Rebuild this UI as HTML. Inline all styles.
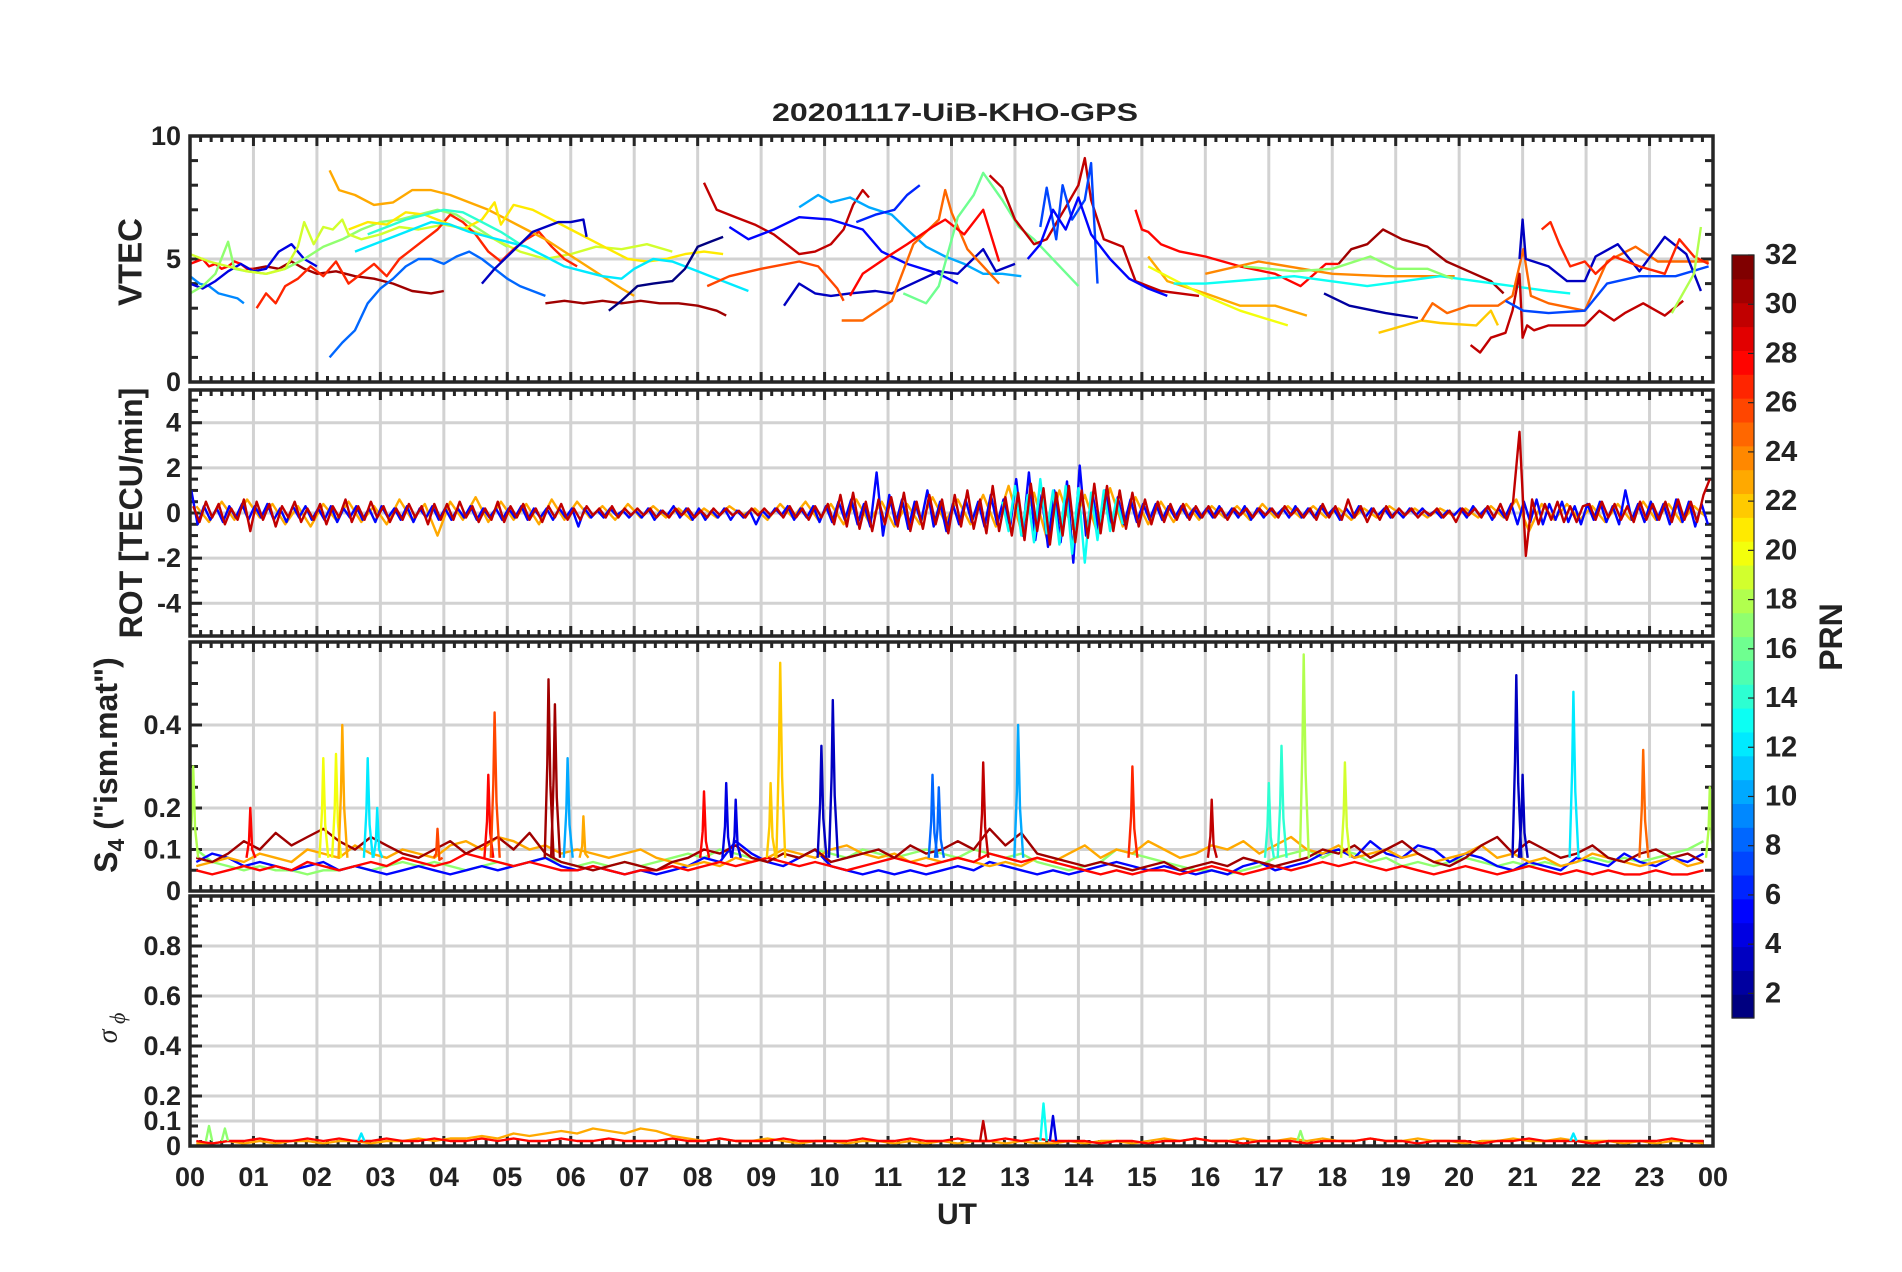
<!DOCTYPE html>
<html><head><meta charset="utf-8">
<style>
html,body{margin:0;padding:0;background:#fff;}
svg{display:block;font-family:"Liberation Sans",Arial,sans-serif;}
</style></head>
<body>
<svg id="fig" width="1902" height="1272" viewBox="0 0 1902 1272" xmlns="http://www.w3.org/2000/svg">
<rect x="0" y="0" width="1902" height="1272" fill="#fff"/>
<text x="955" y="121" text-anchor="middle" font-size="25" font-weight="bold" fill="#222" textLength="366" lengthAdjust="spacingAndGlyphs">20201117-UiB-KHO-GPS</text>
<text x="957" y="1224" text-anchor="middle" font-size="30" font-weight="bold" fill="#222">UT</text>
<text transform="translate(130,262) rotate(-90)" text-anchor="middle" dominant-baseline="central" font-size="33" font-weight="bold" fill="#222">VTEC</text>
<text transform="translate(131,513) rotate(-90)" text-anchor="middle" dominant-baseline="central" font-size="32" font-weight="bold" fill="#222">ROT [TECU/min]</text>
<text transform="translate(106,765) rotate(-90)" text-anchor="middle" dominant-baseline="central" font-size="32" font-weight="bold" fill="#222">S<tspan font-size="23" dy="10">4</tspan><tspan dy="-10"> ("ism.mat")</tspan></text>
<text transform="translate(108,1028) rotate(-90)" text-anchor="middle" dominant-baseline="central" font-size="28" font-style="italic" font-family="Liberation Serif, serif" fill="#222">σ<tspan font-size="22" dy="9"> ϕ</tspan></text>
<text transform="translate(1831,637) rotate(-90)" text-anchor="middle" dominant-baseline="central" font-size="32" font-weight="bold" fill="#222">PRN</text>
</svg>
<script>
// ---------------- DATA ----------------
const hourTicks=["00","01","02","03","04","05","06","07","08","09","10","11","12","13","14","15","16","17","18","19","20","21","22","23","00"];
const vtecTickLabels=[0,5,10];
const rotTickLabels=[-4,-2,0,2,4];
const s4TickLabels=[0,0.1,0.2,0.4];
const sigTickLabels=[0,0.1,0.2,0.4,0.6,0.8];
const cbarTickLabels=[2,4,6,8,10,12,14,16,18,20,22,24,26,28,30,32];

const vtecPrn=[9,28,31,4,17,19,27,23,21,8,12,14,3,31,1,30,10,5,3,6,26,25,28,16,30,7,5,28,31,23,20,24,13,2,22,25,30,3,27,7,18,17];
const vtecTracks=[
[0,4.3,0.15,4.0,0.3,3.9,0.45,3.6,0.6,3.5,0.75,3.4,0.85,3.2],
[0,4.8,0.1,4.9,0.2,5.0,0.3,4.7,0.4,4.8,0.5,4.6,0.6,4.7,0.7,4.9,0.8,4.8,0.9,4.6,1.0,4.6],
[1.0,4.6,1.2,4.7,1.4,4.6,1.6,4.9,1.8,4.6,2.0,4.4,2.3,4.5,2.6,4.3,2.9,4.2,3.2,4.0,3.5,3.7,3.8,3.6,4.0,3.7],
[0,4.0,0.2,3.8,0.4,4.1,0.6,4.5,0.8,4.8,1.0,4.5,1.2,4.6,1.4,5.3,1.6,5.6,1.8,5.0,2.0,4.7],
[0,3.6,0.2,3.9,0.4,4.4,0.6,5.7,0.7,4.6,0.9,4.5,1.2,4.4,1.5,4.6,1.8,5.0,2.1,5.5,2.4,5.8,2.7,6.2,3.0,6.5,3.3,6.6,3.6,6.8,3.9,7.0,4.2,6.8,4.5,6.3,4.8,5.8,5.0,5.5],
[0,5.2,0.3,4.9,0.6,4.7,0.9,4.5,1.2,4.4,1.5,4.6,1.7,5.5,1.8,6.5,1.95,5.6,2.1,6.3,2.25,6.2,2.4,6.6,2.5,6.0,2.7,5.8,3.0,6.0,3.3,6.3,3.6,6.2,4.0,6.4,4.4,6.2,4.8,5.8,5.2,5.3,5.6,5.0,6.0,5.2,6.4,5.5,6.8,5.4,7.2,5.6,7.6,5.3],
[1.05,3.0,1.2,3.6,1.35,3.2,1.5,3.9,1.7,4.2,1.9,4.7,2.1,4.3,2.3,4.9,2.5,4.0,2.7,4.4,2.9,4.8,3.1,4.3,3.3,5.0,3.5,5.4,3.7,5.8,3.9,6.2,4.1,6.8,4.3,6.5,4.5,6.0,4.7,5.3,4.9,4.9,5.1,5.4,5.3,5.8,5.5,6.1,5.7,5.5,5.9,5.0,6.1,4.7],
[2.2,8.6,2.35,7.8,2.6,7.6,2.9,7.2,3.2,7.3,3.5,7.8,3.8,7.8,4.1,7.6,4.4,7.3,4.7,7.0,5.0,6.6,5.3,6.2,5.6,5.8,5.9,5.3,6.2,4.8,6.5,4.3,6.8,3.8,7.0,3.5],
[2.5,6.2,2.8,6.5,3.1,6.4,3.4,6.9,3.7,6.8,4.0,6.5,4.3,6.2,4.6,6.6,4.8,7.3,4.9,6.4,5.1,7.2,5.4,7.0,5.7,6.6,6.0,6.2,6.3,5.8,6.6,5.4,6.9,5.0,7.2,4.9,7.5,5.0,7.8,5.2,8.1,5.3,8.4,5.2],
[2.2,1.0,2.4,1.6,2.6,2.1,2.8,3.2,3.0,3.8,3.2,4.2,3.4,4.7,3.6,5.0,3.8,5.0,4.0,4.8,4.2,5.1,4.4,5.3,4.6,5.0,4.8,4.6,5.0,4.2,5.2,3.9,5.4,3.7,5.6,3.5],
[2.6,5.3,2.9,5.6,3.2,5.9,3.5,6.2,3.8,6.5,4.1,6.4,4.4,6.1,4.7,5.9,5.0,5.7,5.3,5.5,5.6,5.1,5.9,4.7,6.2,4.5,6.5,4.3,6.8,4.2,7.0,4.6,7.3,5.0,7.6,4.9,7.9,4.6,8.2,4.3,8.5,4.0,8.8,3.7],
[2.8,6.0,3.1,6.3,3.4,6.6,3.7,6.8,4.0,7.0,4.3,6.9,4.6,6.5,4.9,6.1,5.2,5.6],
[4.6,4.0,4.8,4.6,5.0,5.1,5.2,5.6,5.4,6.1,5.6,6.3,5.8,6.5,6.0,6.5,6.2,6.6,6.25,5.9],
[5.6,3.2,5.9,3.3,6.2,3.2,6.5,3.3,6.8,3.2,7.1,3.3,7.4,3.2,7.7,3.2,8.0,3.1,8.3,2.9,8.45,2.7],
[6.6,2.9,6.8,3.3,7.05,3.9,7.3,4.0,7.6,4.1,7.8,4.6,8.0,5.5,8.2,5.7,8.4,5.9],
[8.1,8.1,8.3,7.0,8.6,6.7,8.9,6.4,9.2,6.0,9.4,5.6,9.6,5.2,9.85,5.3,10.1,5.6,10.3,6.2,10.45,7.2,10.6,7.8,10.7,7.5],
[9.6,7.1,9.9,7.6,10.1,7.3,10.4,7.5,10.7,7.1,11.06,6.8,11.3,6.2,11.6,5.5,11.9,5.1,12.2,4.8,12.5,4.4,12.8,4.4,13.1,4.3],
[8.5,6.3,8.8,5.8,9.2,6.2,9.6,6.7,10.1,6.6,10.6,6.2,10.9,5.3,11.3,4.8,11.8,4.4,12.1,4.0],
[9.36,3.1,9.6,4.0,9.85,3.6,10.1,3.5,10.4,3.6,10.8,3.7,11.06,3.6,11.3,3.9,11.8,4.5,12.1,4.4,12.5,5.4,12.7,4.5,13.0,4.8],
[10.5,6.5,10.8,6.8,11.1,7.0,11.3,7.6,11.5,8.0],
[8.15,3.9,8.5,4.3,9.0,4.6,9.6,4.9,9.9,4.7,10.2,3.8,10.3,3.3],
[10.27,2.5,10.6,2.5,11.06,3.3,11.4,5.6,11.8,6.6,11.9,7.8,12.0,6.9,12.25,5.4,12.75,4.0],
[10.4,3.5,10.6,4.4,11.0,5.1,11.3,5.6,11.7,6.3,11.9,6.6,12.2,6.0,12.5,7.0,12.75,4.9],
[11.24,3.6,11.6,3.2,11.8,3.9,12.1,6.7,12.35,7.6,12.5,8.5,12.8,7.4,13.06,6.3,13.3,5.8,14.0,3.9],
[12.6,8.4,12.8,7.9,13.0,6.6,13.3,5.6,13.5,5.8,13.8,7.1,14.0,8.0,14.1,9.1,14.2,7.4,14.4,5.8,14.7,5.5,14.9,4.1,15.1,3.9,15.3,3.7,15.6,3.6,15.9,3.5],
[13.4,6.3,13.5,7.9,13.65,5.8,13.75,8.0,13.9,6.6,14.1,7.4,14.2,8.9,14.3,4.0],
[13.2,5.0,13.4,5.6,13.6,7.0,13.8,6.2,14.0,7.5,14.2,6.0,14.5,5.0,14.8,4.2,15.1,3.8,15.4,3.5],
[14.9,7.0,15.0,6.2,15.1,6.1,15.3,5.6,15.6,5.3,16.0,5.1,16.55,4.7,17.1,4.4,17.5,3.9,17.9,4.8,18.1,4.8],
[18.1,4.8,18.3,5.4,18.55,5.6,18.8,6.2,19.1,5.8,19.5,5.5,19.8,4.9,20.15,4.5,20.5,4.1,20.7,3.6],
[15.1,5.1,15.4,4.1,16.0,3.6,16.55,3.1,17.1,3.1,17.6,2.7],
[15.1,4.7,16.0,3.5,16.55,2.9,17.3,2.3],
[16.0,4.4,16.84,4.9,18.0,4.4,18.84,4.3,19.93,4.3],
[15.5,4.0,16.0,4.0,17.4,4.3,18.55,3.9,19.7,4.3,20.55,4.0,21.4,3.7,21.75,3.6],
[17.87,3.6,18.27,3.1,18.84,2.8,19.35,2.6],
[18.73,2.0,19.41,2.5,19.7,2.4,20.27,2.3,20.5,2.9,20.61,2.3],
[19.41,2.5,19.58,3.2,19.81,2.8,20.15,3.1,20.61,3.1,20.84,3.5,21.01,5.4,21.13,3.5,21.41,3.2,21.98,2.9,22.33,4.9,22.78,5.5,23.13,4.9,23.93,4.9],
[20.18,1.5,20.33,1.2,20.5,1.8,20.73,2.0,20.84,2.9,20.95,4.4,21.0,1.8,21.07,2.3,21.18,2.1,21.41,2.3,21.98,2.3,22.21,2.9,22.44,2.5,22.61,2.8,22.9,3.2,23.24,2.7,23.53,3.3],
[20.95,5.0,21.0,6.6,21.05,5.0,21.41,4.7,21.7,4.1,21.98,4.1,22.15,5.1,22.5,5.6,22.84,4.5,23.24,5.9,23.58,5.2,23.81,3.7],
[21.3,6.2,21.44,6.5,21.58,5.6,21.75,4.7,21.98,4.9,22.15,4.4,22.44,5.1,22.84,4.7,23.24,4.4,23.47,5.8,23.7,5.1,23.93,4.8],
[20.73,3.3,21.01,2.9,21.41,2.8,21.98,2.9,22.33,4.0,22.84,4.3,23.41,4.3,23.93,4.7],
[23.35,2.8,23.7,4.4,23.81,6.3],
[16.6,4.7,17.4,4.5,18.0,4.6,18.6,5.1,19.0,4.6,19.5,4.6,19.9,4.2]
];

const rotRed=[0.3,-0.4,0.5,-0.2,0.4,-0.5,0.2,-0.3,0.6,-0.8,0.5,-0.3,0.4,-0.6,0.3,-0.2,0.5,-0.4,0.2,-0.3,0.4,-0.5,0.3,-0.2,0.6,-0.4,0.3,-0.3,0.5,-0.2,0.3,-0.4,0.2,-0.3,0.4,-0.2,0.3,-0.5,0.4,-0.3,0.4,-0.3,0.5,-0.2,0.3,-0.4,0.2,-0.3,0.5,-0.4,0.3,-0.2,0.4,-0.3,0.2,-0.4,0.3,-0.2,0.4,-0.3,0.2,-0.3,0.3,-0.1,0.2,-0.2,0.3,-0.2,0.2,-0.1,0.2,-0.1,0.2,-0.2,0.1,-0.2,0.2,-0.1,0.2,-0.2,0.1,-0.2,0.2,-0.1,0.2,-0.1,0.1,-0.2,0.2,-0.1,0.2,-0.1,0.2,-0.2,0.3,-0.2,0.2,-0.3,0.3,-0.2,0.4,-0.5,0.8,-0.6,0.9,-0.7,0.5,-0.8,0.6,-0.5,0.7,-0.6,0.9,-0.8,0.5,-0.7,0.8,-0.5,0.6,-0.9,0.8,-0.6,1.0,-0.7,0.6,-0.9,1.2,-0.8,0.7,-1.0,0.9,-1.2,1.3,-0.8,1.1,-1.4,0.9,-1.0,1.2,-1.3,1.0,-1.1,1.3,-0.9,1.2,-0.8,1.0,-0.7,0.9,-0.6,0.6,-0.5,0.5,-0.4,0.4,-0.3,0.4,-0.3,0.3,-0.2,0.3,-0.2,0.2,-0.3,0.2,-0.1,0.2,-0.2,0.2,-0.1,0.2,-0.2,0.3,-0.1,0.2,-0.2,0.2,-0.3,0.4,-0.2,0.3,-0.3,0.6,-0.2,0.3,-0.4,0.2,-0.3,0.3,-0.2,0.2,-0.1,0.2,-0.2,0.1,-0.1,0.2,-0.2,0.1,-0.4,0.2,-0.1,0.2,-0.2,0.3,-0.2,0.4,-0.3,0.5,3.6,-1.9,0.6,-0.5,0.4,-0.3,0.5,-0.4,0.3,-0.4,0.3,0.4,-0.3,0.5,-0.2,0.4,-0.3,0.3,-0.4,0.5,-0.3,0.4,-0.3,0.5,-0.4,0.6,-0.3,0.5,-0.4,0.8,1.5];
const rotBlue=[1.0,-0.5,0.3,-0.3,0.2,-0.4,0.3,-0.2,0.4,-0.3,0.3,-0.2,0.4,-0.3,0.2,-0.4,0.3,-0.2,0.3,-0.3,0.2,-0.3,0.3,-0.4,0.2,-0.2,0.3,-0.3,0.2,-0.4,0.3,-0.2,0.2,-0.3,0.3,-0.4,0.2,-0.2,0.3,-0.3,0.2,-0.3,0.2,-0.2,0.3,-0.3,0.2,-0.2,0.2,-0.3,0.2,-0.2,0.3,-0.3,0.2,-0.2,0.2,-0.3,0.2,-0.2,0.2,-0.6,0.2,-0.2,0.1,-0.2,0.2,-0.1,0.1,-0.2,0.1,-0.2,0.2,-0.3,0.1,-0.1,0.3,-0.2,0.2,-0.3,0.2,-0.3,0.1,-0.2,0.2,-0.3,0.1,-0.2,0.1,-0.5,0.1,-0.2,0.2,-0.1,0.3,-0.3,0.2,-0.2,0.3,-0.4,0.3,-0.4,0.5,-0.3,0.6,-0.5,0.4,-0.6,1.8,-1.0,0.8,-0.5,0.6,-0.7,0.5,-0.4,1.0,-0.6,0.5,-0.8,0.4,-0.5,0.6,-0.4,0.5,-0.6,0.8,-0.5,0.6,-0.7,1.5,-1.0,1.8,-1.2,0.8,-1.5,1.0,-1.3,1.4,-2.2,2.1,-1.0,0.9,-0.8,1.0,-0.6,0.7,-0.5,0.6,-0.4,0.4,-0.3,0.4,-0.3,0.3,-0.2,0.3,-0.2,0.2,-0.2,0.2,-0.2,0.3,-0.2,0.2,-0.2,0.3,-0.3,0.2,-0.2,0.2,-0.1,0.2,-0.2,0.3,-0.2,0.2,-0.2,0.3,-0.1,0.2,-0.3,0.2,-0.2,0.3,-0.2,0.2,-0.1,0.2,-0.2,0.1,-0.2,0.2,-0.1,0.2,-0.1,0.1,-0.2,0.1,-0.1,0.2,-0.2,0.3,-0.1,0.2,-0.3,0.2,-0.2,0.4,-0.5,0.5,-0.4,0.6,-0.5,0.4,-0.3,0.5,-0.4,0.3,-0.5,0.4,-0.3,0.5,-0.4,0.3,-0.5,1.0,-0.3,0.4,-0.4,0.5,-0.3,0.4,-0.5,0.6,-0.4,0.5,-0.6,0.4,-0.5];
const rotOrange=[0.3,-0.4,0.5,-0.3,0.6,-0.2,0.4,-0.5,0.3,-0.6,0.4,-0.3,0.5,-0.4,0.3,-0.5,0.6,-0.3,0.4,-1.0,0.5,-0.3,0.7,-0.4,0.5,-0.3,0.4,-0.5,0.6,-0.3,0.5,-0.2,0.3,-0.3,0.4,-0.2,0.3,-0.2,0.2,-0.3,0.2,-0.2,0.3,-0.1,0.2,-0.3,0.4,-0.2,0.5,-0.3,0.4,-0.5,0.6,-0.4,0.5,-0.6,0.4,-0.5,0.7,-0.4,0.6,-0.5,0.8,-0.6,1.2,-0.8,0.9,-1.1,1.0,-0.7,0.8,-0.9,1.1,-0.6,0.7,-0.5,0.5,-0.4,0.4,-0.3,0.3,-0.2,0.3,-0.3,0.4,-0.2,0.3,-0.2,0.3,-0.2,0.2,-0.3,0.2,-0.2,0.3,-0.1,0.2,-0.2,0.2,-0.1,0.2,-0.2,0.3,-0.2,0.6,-0.8,0.4,-0.3,0.4,-0.3,0.3,-0.4,0.4,-0.3,0.5,-0.3,0.4,-0.4,0.3,-0.2];
const rotCyanStart=12.8;
const rotCyan=[0.5,-0.8,1.2,-1.0,0.8,-1.3,1.5,-0.9,1.0,-1.4,1.2,-1.8,1.1,-2.2,0.9,-1.2,1.0,-0.8,0.6,-0.5];

const s4DarkRed=[0.08,0.07,0.09,0.12,0.10,0.14,0.11,0.13,0.15,0.12,0.10,0.13,0.11,0.09,0.08,0.10,0.12,0.09,0.11,0.13,0.10,0.14,0.09,0.07,0.06,0.05,0.06,0.07,0.06,0.05,0.07,0.08,0.10,0.09,0.11,0.08,0.07,0.09,0.08,0.10,0.07,0.08,0.09,0.10,0.08,0.11,0.09,0.10,0.12,0.10,0.15,0.11,0.14,0.09,0.08,0.07,0.06,0.07,0.06,0.05,0.06,0.07,0.05,0.06,0.07,0.06,0.08,0.07,0.06,0.07,0.08,0.10,0.09,0.11,0.08,0.10,0.12,0.09,0.07,0.06,0.08,0.11,0.13,0.09,0.12,0.10,0.08,0.09,0.11,0.08,0.07,0.09,0.10,0.08,0.09,0.07];
const s4Red=[0.05,0.04,0.05,0.06,0.05,0.06,0.05,0.07,0.06,0.05,0.06,0.07,0.06,0.08,0.07,0.06,0.07,0.09,0.08,0.07,0.06,0.07,0.06,0.05,0.05,0.06,0.05,0.04,0.05,0.05,0.06,0.05,0.06,0.07,0.06,0.07,0.08,0.07,0.06,0.07,0.06,0.05,0.06,0.07,0.08,0.07,0.06,0.07,0.08,0.07,0.09,0.08,0.07,0.08,0.07,0.06,0.05,0.04,0.05,0.04,0.05,0.05,0.04,0.05,0.06,0.05,0.04,0.05,0.06,0.05,0.06,0.07,0.06,0.07,0.06,0.05,0.06,0.05,0.04,0.05,0.06,0.05,0.04,0.05,0.06,0.05,0.04,0.05,0.04,0.05,0.04,0.04,0.05,0.04,0.04,0.05];
const s4Blue=[0.07,0.09,0.08,0.06,0.07,0.06,0.05,0.06,0.07,0.05,0.06,0.05,0.04,0.05,0.06,0.05,0.04,0.05,0.06,0.05,0.06,0.07,0.08,0.06,0.05,0.06,0.05,0.04,0.05,0.04,0.05,0.06,0.08,0.07,0.12,0.09,0.07,0.06,0.08,0.10,0.06,0.05,0.04,0.05,0.04,0.05,0.04,0.05,0.06,0.05,0.07,0.06,0.05,0.04,0.05,0.04,0.05,0.06,0.07,0.06,0.05,0.06,0.05,0.04,0.05,0.04,0.06,0.07,0.05,0.06,0.07,0.09,0.10,0.08,0.12,0.09,0.08,0.11,0.10,0.07,0.09,0.08,0.06,0.05,0.07,0.06,0.05,0.08,0.07,0.06,0.09,0.07,0.06,0.08,0.07,0.09];
const s4Orange=[0.06,0.07,0.08,0.07,0.09,0.08,0.07,0.10,0.09,0.08,0.11,0.09,0.08,0.10,0.09,0.08,0.11,0.12,0.10,0.13,0.12,0.10,0.11,0.09,0.10,0.09,0.08,0.09,0.10,0.08,0.07,0.06,0.07,0.06,0.08,0.07,0.08,0.10,0.09,0.08,0.10,0.11,0.09,0.08,0.09,0.07,0.08,0.07,0.08,0.07,0.06,0.07,0.06,0.08,0.07,0.09,0.11,0.08,0.10,0.09,0.12,0.10,0.08,0.09,0.11,0.10,0.12,0.09,0.11,0.13,0.10,0.09,0.11,0.08,0.09,0.10,0.08,0.09,0.07,0.08,0.09,0.11,0.08,0.09,0.07,0.08,0.06,0.07,0.09,0.08,0.07,0.06,0.07,0.08,0.06,0.07];
const s4Green=[0.10,0.07,0.06,0.05,0.06,0.05,0.05,0.04,0.05,0.05,0.06,0.05,0.06,0.07,0.06,0.07,0.06,0.05,0.06,0.07,0.06,0.07,0.08,0.07,0.06,0.07,0.06,0.07,0.06,0.07,0.08,0.09,0.08,0.10,0.09,0.08,0.07,0.09,0.08,0.10,0.09,0.08,0.10,0.09,0.08,0.09,0.10,0.09,0.08,0.10,0.09,0.08,0.09,0.07,0.06,0.05,0.06,0.07,0.10,0.09,0.08,0.07,0.06,0.05,0.05,0.04,0.05,0.06,0.08,0.09,0.10,0.08,0.10,0.09,0.07,0.08,0.06,0.07,0.06,0.07,0.08,0.07,0.06,0.07,0.06,0.07,0.06,0.07,0.08,0.07,0.08,0.07,0.08,0.09,0.10,0.12];
const s4SpikeT=[0.05,0.95,2.1,2.3,2.4,2.8,2.95,3.9,4.7,4.8,5.65,5.75,5.95,6.2,8.1,8.45,8.6,9.15,9.3,9.95,10.13,11.7,11.8,12.5,13.05,14.85,16.1,17.0,17.2,17.55,18.2,20.9,21.0,21.8,22.9,23.95];
const s4SpikeV=[0.30,0.20,0.32,0.33,0.40,0.32,0.20,0.15,0.28,0.43,0.51,0.45,0.32,0.18,0.24,0.26,0.22,0.26,0.55,0.35,0.46,0.28,0.25,0.31,0.40,0.30,0.22,0.26,0.35,0.57,0.31,0.52,0.28,0.48,0.34,0.25];
const s4SpikePrn=[18,28,20,20,23,12,12,26,28,26,31,31,10,23,28,4,4,22,22,3,3,8,8,30,10,27,30,14,14,18,19,3,3,12,25,18];

const sigRed=[0.02,0.01,0.02,0.02,0.03,0.02,0.02,0.03,0.02,0.03,0.02,0.02,0.03,0.02,0.02,0.03,0.02,0.02,0.03,0.02,0.03,0.02,0.02,0.03,0.02,0.02,0.03,0.02,0.02,0.02,0.03,0.02,0.02,0.03,0.02,0.02,0.02,0.03,0.02,0.02,0.02,0.02,0.03,0.02,0.02,0.03,0.02,0.02,0.03,0.02,0.02,0.03,0.02,0.03,0.02,0.02,0.02,0.01,0.02,0.02,0.01,0.02,0.02,0.03,0.02,0.02,0.01,0.02,0.02,0.02,0.01,0.02,0.02,0.02,0.03,0.02,0.02,0.01,0.02,0.02,0.02,0.01,0.02,0.02,0.03,0.02,0.02,0.02,0.01,0.02,0.02,0.02,0.02,0.03,0.02,0.02];
const sigOrange=[0.01,0.01,0.02,0.01,0.02,0.01,0.02,0.02,0.01,0.02,0.02,0.01,0.02,0.02,0.03,0.02,0.03,0.03,0.04,0.03,0.05,0.04,0.05,0.06,0.05,0.07,0.06,0.05,0.07,0.06,0.04,0.03,0.02,0.03,0.02,0.02,0.03,0.02,0.01,0.02,0.02,0.01,0.02,0.02,0.01,0.02,0.01,0.02,0.01,0.02,0.02,0.01,0.02,0.01,0.01,0.02,0.01,0.02,0.02,0.01,0.02,0.03,0.02,0.03,0.02,0.02,0.03,0.02,0.02,0.03,0.02,0.03,0.02,0.02,0.03,0.02,0.02,0.03,0.02,0.02,0.01,0.02,0.02,0.03,0.02,0.02,0.03,0.02,0.02,0.02,0.01,0.02,0.01,0.02,0.02,0.01];
const sigSpikeT=[0.3,0.55,2.7,12.5,13.45,13.6,17.5,21.8];
const sigSpikeV=[0.08,0.07,0.05,0.10,0.17,0.12,0.06,0.05];
const sigSpikePrn=[17,17,12,30,13,4,17,12];

// ---------------- DRAW ----------------
const NS="http://www.w3.org/2000/svg";
const svg=document.getElementById('fig');
const X0=190,X1=1713;
const LW=2.4;
function xs(h){return X0+(X1-X0)*h/24;}
const panels=[
 {key:'vtec',top:136,bot:382,min:0,max:10},
 {key:'rot',top:390,bot:636,min:-5.45,max:5.45},
 {key:'s4',top:642,bot:891,min:0,max:0.6},
 {key:'sig',top:896,bot:1146,min:0,max:1}
];
function ys(p,v){return p.bot-(v-p.min)/(p.max-p.min)*(p.bot-p.top);}
function jet(prn){
  const t=(prn-1)/31;
  const c=x=>Math.round(255*Math.max(0,Math.min(1,x)));
  return 'rgb('+c(1.5-Math.abs(4*t-3))+','+c(1.5-Math.abs(4*t-2))+','+c(1.5-Math.abs(4*t-1))+')';
}
function mk(tag,attrs,parent){
  const e=document.createElementNS(NS,tag);
  for(const k in attrs)e.setAttribute(k,attrs[k]);
  (parent||svg).appendChild(e);return e;
}
const frameCol='#262626';
const gridCol='#d2d2d2';
const defs=mk('defs',{});
panels.forEach(p=>{
  const cp=mk('clipPath',{id:'clip-'+p.key},defs);
  mk('rect',{x:X0,y:p.top,width:X1-X0,height:p.bot-p.top},cp);
});

function gridAndAxes(p,gridVals,minorStep,majorVals,labels){
  const g=mk('g',{});
  
  
  for(let h=1;h<24;h++){
    const l=mk('line',{x1:xs(h),x2:xs(h),y1:p.top,y2:p.bot,stroke:gridCol,'stroke-width':3},g);
    
    
  }
  gridVals.forEach(v=>{
    const l=mk('line',{x1:X0,x2:X1,y1:ys(p,v),y2:ys(p,v),stroke:gridCol,'stroke-width':3},g);
    
    
  });
  for(let m=0;m<=24*6;m++){
    const h=m/6, x=xs(h), len=(m%6===0)?10:6;
    [[p.top,1],[p.bot,-1]].forEach(([y0,d])=>{
      const t=mk('line',{x1:x,x2:x,y1:y0,y2:y0+d*len,stroke:frameCol,'stroke-width':3},g);
      
      
    });
  }
  const start=Math.ceil(p.min/minorStep-1e-6);
  for(let i=start;i*minorStep<=p.max+1e-9;i++){
    const v=i*minorStep,y=ys(p,v);
    const major=majorVals.some(mv=>Math.abs(mv-v)<1e-6);
    const len=major?12:8;
    [[X0,1],[X1,-1]].forEach(([x0,d])=>{
      const t=mk('line',{x1:x0,x2:x0+d*len,y1:y,y2:y,stroke:frameCol,'stroke-width':3},g);
      
      
    });
  }
  labels.forEach(v=>{
    const t=mk('text',{x:181,y:ys(p,v),'text-anchor':'end','dominant-baseline':'central','font-size':27,'font-weight':'bold',fill:'#222'},g);
    t.textContent=String(v);
    
    
  });
}
gridAndAxes(panels[0],[5],1,[0,5,10],vtecTickLabels);
gridAndAxes(panels[1],[-4,-2,0,2,4],0.5,[-4,-2,0,2,4],rotTickLabels);
gridAndAxes(panels[2],[0.1,0.2,0.4],0.05,[0,0.1,0.2,0.4],s4TickLabels);
gridAndAxes(panels[3],[0.1,0.2,0.4,0.6,0.8],0.04,[0,0.2,0.4,0.6,0.8],sigTickLabels);

function seriesGroup(p,name){
  const g=mk('g',{'clip-path':'url(#clip-'+p.key+')'});
  
  
  return g;
}
function poly(g,pts,prn,name){
  const e=mk('polyline',{points:pts.map(q=>q[0].toFixed(1)+','+q[1].toFixed(1)).join(' '),fill:'none',stroke:jet(prn),'stroke-width':LW,'stroke-linejoin':'round'},g);
  
  
  return e;
}
{
  const p=panels[0],g=seriesGroup(p,'vtec-series');
  vtecTracks.forEach((tr,i)=>{
    const pts=[];
    for(let k=0;k<tr.length;k+=2)pts.push([xs(tr[k]),ys(p,tr[k+1])]);
    poly(g,pts,vtecPrn[i],'vtec-line-prn'+vtecPrn[i]);
  });
}
{
  const p=panels[1],g=seriesGroup(p,'rot-series');
  function draw(arr,t0,dt,prn){
    poly(g,arr.map((v,i)=>[xs(t0+i*dt),ys(p,v)]),prn,'rot-line-prn'+prn);
  }
  draw(rotOrange,0.1,0.2,23);
  draw(rotBlue,0.02,0.1,5);
  draw(rotCyan,rotCyanStart,0.1,13);
  draw(rotRed,0.05,0.1,30);
}
{
  const p=panels[2],g=seriesGroup(p,'s4-series');
  function draw(arr,prn){
    poly(g,arr.map((v,i)=>[xs(i*0.25+0.1),ys(p,v)]),prn,'s4-line-prn'+prn);
  }
  draw(s4Green,17);draw(s4Blue,5);draw(s4Orange,23);draw(s4Red,28);draw(s4DarkRed,31);
  s4SpikeT.forEach((t,i)=>{
    const base=0.08;
    poly(g,[[xs(t-0.06),ys(p,base)],[xs(t-0.02),ys(p,s4SpikeV[i]*0.6)],[xs(t),ys(p,s4SpikeV[i])],[xs(t+0.03),ys(p,s4SpikeV[i]*0.5)],[xs(t+0.08),ys(p,base)]],s4SpikePrn[i],'s4-spike-prn'+s4SpikePrn[i]);
  });
}
{
  const p=panels[3],g=seriesGroup(p,'sigma-phi-series');
  function draw(arr,prn){
    poly(g,arr.map((v,i)=>[xs(i*0.25+0.1),ys(p,v)]),prn,'sigma-line-prn'+prn);
  }
  draw(sigOrange,23);draw(sigRed,28);
  sigSpikeT.forEach((t,i)=>{
    poly(g,[[xs(t-0.05),ys(p,0.02)],[xs(t),ys(p,sigSpikeV[i])],[xs(t+0.05),ys(p,0.02)]],sigSpikePrn[i],'sigma-spike-prn'+sigSpikePrn[i]);
  });
}
panels.forEach(p=>{
  const r=mk('rect',{x:X0,y:p.top,width:X1-X0,height:p.bot-p.top,fill:'none',stroke:frameCol,'stroke-width':3.5});
  
  
});
hourTicks.forEach((s,i)=>{
  const t=mk('text',{x:xs(i),y:1186,'text-anchor':'middle','font-size':27,'font-weight':'bold',fill:'#222'});
  t.textContent=s;
  
  
});
{
  const cTop=255,cBot=1018,cx=1732,cw=22;
  const cy=v=>cBot-(v-1)/31*(cBot-cTop);
  const g=mk('g',{});
  
  
  const bh=(cBot-cTop)/32;
  for(let i=0;i<32;i++){
    const r=mk('rect',{x:cx,y:cBot-(i+1)*bh,width:cw,height:bh+0.6,fill:jet(i+1)},g);
    
    
  }
  const fr=mk('rect',{x:cx,y:cTop,width:cw,height:cBot-cTop,fill:'none',stroke:frameCol,'stroke-width':1.2},g);
  
  
  cbarTickLabels.forEach(v=>{
    const tk=mk('line',{x1:cx+cw-6,x2:cx+cw,y1:cy(v),y2:cy(v),stroke:frameCol,'stroke-width':1.2},g);
    
    
    const t=mk('text',{x:1765,y:cy(v),'dominant-baseline':'central','font-size':29,'font-weight':'bold',fill:'#222'},g);
    t.textContent=String(v);
    
    
  });
}
</script>
</body></html>
